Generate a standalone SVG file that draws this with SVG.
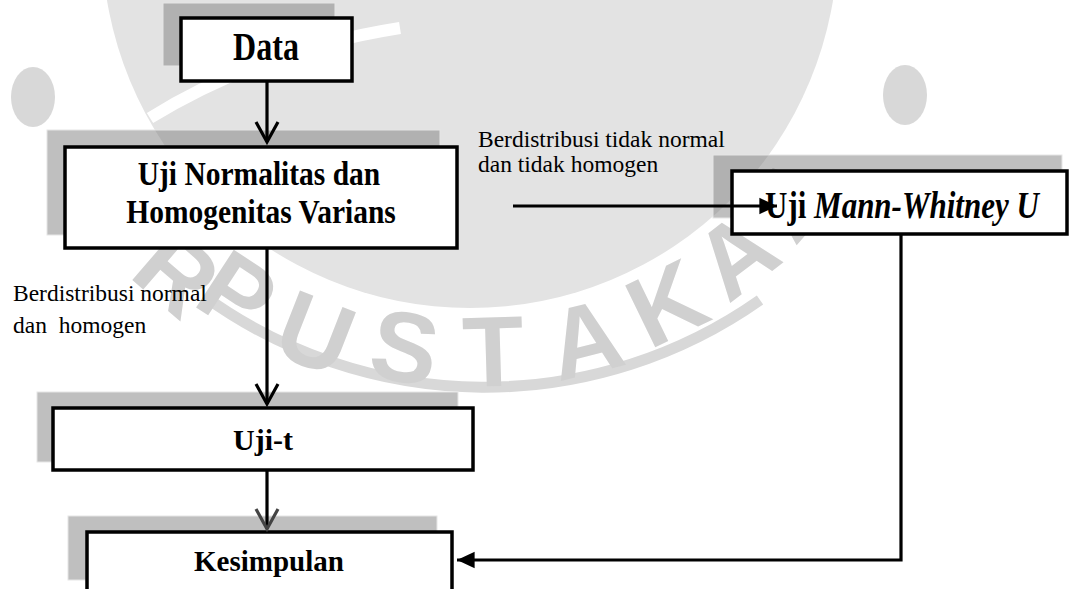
<svg xmlns="http://www.w3.org/2000/svg" width="1071" height="589" viewBox="0 0 1071 589">
<style>
.bg{fill:#ffffff}
.wm{fill:#d0d0d0;font-family:"Liberation Sans",Arial,sans-serif;font-weight:bold;font-size:100px}
.shadow{fill:#808080;fill-opacity:0.5;stroke:#e6e6e6;stroke-width:1}
.box{fill:#ffffff;stroke:#000000;stroke-width:3.5}
.title{font-family:"Liberation Serif","Times New Roman",serif;font-weight:bold;fill:#000000}
.label{font-family:"Liberation Serif","Times New Roman",serif;font-size:23.5px;fill:#000000}
.line{fill:none;stroke:#000000;stroke-width:3.2}
</style>
<defs>
<marker id="open" markerUnits="userSpaceOnUse" markerWidth="30" markerHeight="30" viewBox="-24 -15 28 30" refX="0" refY="0" orient="auto">
<path d="M-20,-11 L0,0 L-20,11" fill="none" stroke="#000000" stroke-width="3.2"/>
</marker>
<marker id="openGrey" markerUnits="userSpaceOnUse" markerWidth="30" markerHeight="30" viewBox="-24 -15 28 30" refX="0" refY="0" orient="auto">
<path d="M-20,-11 L0,0 L-20,11" fill="none" stroke="#444444" stroke-width="3.2"/>
</marker>
<marker id="filled" markerUnits="userSpaceOnUse" markerWidth="20" markerHeight="20" viewBox="-16 -8 17 16" refX="0" refY="0" orient="auto">
<path d="M-15,-7 L0,0 L-15,7 Z" fill="#000000"/>
</marker>
</defs>
<rect class="bg" x="0" y="0" width="1071" height="589"/>
<g id="watermark">
<circle cx="470" cy="-60" r="368" fill="#e3e3e3"/>
<path d="M 150 118 Q 260 50 400 28" fill="none" stroke="#ffffff" stroke-width="12"/>
<path d="M 204 296 A 478 478 0 0 0 760 300" fill="none" stroke="#d8d8d8" stroke-width="11"/>
<ellipse cx="33" cy="97" rx="22" ry="30" fill="#d8d8d8"/>
<ellipse cx="905" cy="95" rx="22" ry="30" fill="#d8d8d8"/>
<text class="wm" text-anchor="middle" transform="translate(178,272) rotate(40.7)" y="36">R</text>
<text class="wm" text-anchor="middle" transform="translate(238,292) rotate(33.2)" y="36">P</text>
<text class="wm" text-anchor="middle" transform="translate(316,332) rotate(21.4)" y="36">U</text>
<text class="wm" text-anchor="middle" transform="translate(405,346) rotate(9.8)" y="36">S</text>
<text class="wm" text-anchor="middle" transform="translate(493,350) rotate(-1.7)" y="36">T</text>
<text class="wm" text-anchor="middle" transform="translate(585,338) rotate(-13.9)" y="36">A</text>
<text class="wm" text-anchor="middle" transform="translate(666,302) rotate(-25.9)" y="36">K</text>
<text class="wm" text-anchor="middle" transform="translate(735,254) rotate(-37.4)" y="36">A</text>
<text class="wm" text-anchor="middle" transform="translate(792,196) rotate(-48.6)" y="36">A</text>
</g>
<g id="node-data">
<rect class="shadow" x="163" y="3" width="172" height="63"/>
<rect class="box" x="181" y="18" width="171" height="63"/>
<text class="title" font-size="32" text-anchor="middle" transform="translate(266,60) scale(1,1.25)">Data</text>
</g>
<g id="node-uji-normalitas">
<rect class="shadow" x="47" y="130" width="393" height="105"/>
<rect class="box" x="65" y="147" width="392" height="101"/>
<text class="title" font-size="29.5" text-anchor="middle" transform="translate(259,185) scale(1,1.12)">Uji Normalitas dan</text>
<text class="title" font-size="29.5" text-anchor="middle" transform="translate(261,223) scale(1,1.12)">Homogenitas Varians</text>
</g>
<g id="node-mann-whitney">
<rect class="shadow" x="713" y="155" width="349" height="63"/>
<rect class="box" x="732" y="171" width="335" height="63"/>
<text class="title" font-size="31" transform="translate(765,218) scale(1,1.2)">Uji <tspan font-style="italic">Mann-Whitney U</tspan></text>
</g>
<g id="node-uji-t">
<rect class="shadow" x="37" y="392" width="421" height="70"/>
<rect class="box" x="53" y="408" width="420" height="62"/>
<text class="title" font-size="30" text-anchor="middle" x="263" y="450">Uji-t</text>
</g>
<g id="node-kesimpulan">
<rect class="shadow" x="68" y="516" width="369" height="64"/>
<rect class="box" x="87" y="532" width="365" height="70"/>
<text class="title" font-size="29" text-anchor="middle" x="269" y="571">Kesimpulan</text>
</g>
<g id="labels">
<text class="label" x="478" y="147">Berdistribusi tidak normal</text>
<text class="label" x="478" y="172">dan tidak homogen</text>
<text class="label" x="13" y="301">Berdistribusi normal</text>
<text class="label" x="13" y="333" xml:space="preserve">dan  homogen</text>
</g>
<g id="connectors">
<line class="line" x1="267" y1="81" x2="267" y2="142" marker-end="url(#open)"/>
<line class="line" x1="267" y1="248" x2="267" y2="404" marker-end="url(#open)"/>
<line class="line" x1="267" y1="470" x2="267" y2="529" marker-end="url(#openGrey)"/>
<line class="line" x1="513" y1="206" x2="777" y2="206" marker-end="url(#filled)"/>
<polyline class="line" points="901,234 901,560 457,560" marker-end="url(#filled)"/>
</g>
</svg>
